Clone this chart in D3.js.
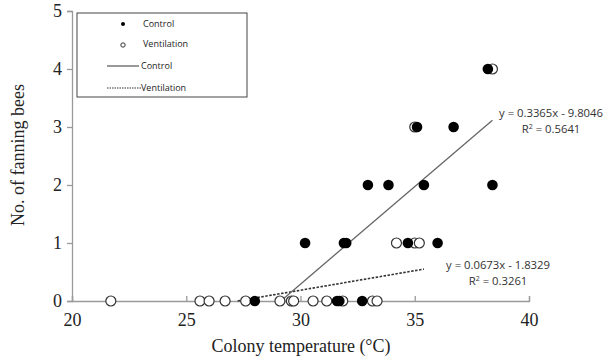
<!DOCTYPE html>
<html>
<head>
<meta charset="utf-8">
<script src="https://cdn.jsdelivr.net/npm/d3@7"></script>
<style>
  body { margin: 0; background: #fff; }
  svg { display: block; }
</style>
</head>
<body>
<svg id="chart" width="605" height="358"></svg>
<script>
// control colonies (filled dots)
var controlTemp = [28.0, 31.6, 31.7, 32.7, 30.2, 31.9, 32.0, 34.7, 36.0, 32.95, 33.85, 35.4, 38.4, 35.1, 36.7, 38.2];
var controlFan  = [0,    0,    0,    0,    1,    1,    1,    1,    1,    2,     2,     2,    2,    3,    3,    4];
// ventilation colonies (open circles)
var ventTemp = [21.7, 25.6, 26.0, 26.7, 27.6, 29.1, 29.6, 29.7, 30.55, 31.15, 31.85, 33.15, 33.35, 34.2, 35.0, 35.2, 35.0, 38.4];
var ventFan  = [0,    0,    0,    0,    0,    0,    0,    0,    0,     0,     0,     0,     0,     1,    1,    1,    3,    4];
// trendlines
var controlFit = {a: 0.3365, b: -9.8046, from: 29.14, to: 38.4};
var ventFit = {a: 0.0673, b: -1.8329, from: 27.25, to: 35.4};
var xTicks = [20, 25, 30, 35, 40];
var yTicks = [0, 1, 2, 3, 4, 5];

var svg = d3.select("#chart");
var x = d3.scaleLinear().domain([20, 40]).range([72, 529]);
var y = d3.scaleLinear().domain([0, 5]).range([301, 11]);
var axisColor = "#9a9a9a";

// y axis, ticks outside
var gy = svg.append("g").attr("transform", "translate(72,0)")
    .call(d3.axisLeft(y).tickValues(yTicks).tickSize(5).tickPadding(5).tickFormat(d3.format("d")));
// x axis, ticks pointing up
var gx = svg.append("g").attr("transform", "translate(0,301)")
    .call(d3.axisBottom(x).tickValues(xTicks).tickSizeInner(-5).tickSizeOuter(-5).tickPadding(8).tickFormat(d3.format("d")));

[gx, gy].forEach(function(g){
    g.select(".domain").attr("stroke", axisColor).attr("stroke-width", 1.3);
    g.selectAll(".tick line").attr("stroke", axisColor).attr("stroke-width", 1.3);
    g.selectAll(".tick text").attr("fill", "#222")
        .style("font-family", "'Liberation Serif', 'Times New Roman', serif").style("font-size", "18px");
});
gx.selectAll(".tick text").attr("dy", "0.95em");

// axis titles
svg.append("text").attr("x", 301).attr("y", 352).attr("text-anchor", "middle")
    .style("font-family", "'Liberation Serif', serif").style("font-size", "18px").attr("fill", "#222")
    .text("Colony temperature (°C)");
svg.append("text").attr("transform", "translate(24,155) rotate(-90)").attr("text-anchor", "middle")
    .style("font-family", "'Liberation Serif', serif").style("font-size", "18px").attr("fill", "#222")
    .text("No. of fanning bees");

// trendlines
function fitLine(f, dash){
    svg.append("line")
        .attr("x1", x(f.from)).attr("y1", y(f.a * f.from + f.b))
        .attr("x2", x(f.to)).attr("y2", y(f.a * f.to + f.b))
        .attr("stroke", dash ? "#333" : "#666").attr("stroke-width", dash ? 1.6 : 1.3)
        .attr("stroke-dasharray", dash ? "2.5,1.5" : null);
}
fitLine(ventFit, true);
fitLine(controlFit, false);

// points
var ventPts = ventTemp.map(function(t, i){ return [t, ventFan[i]]; });
var ctrlPts = controlTemp.map(function(t, i){ return [t, controlFan[i]]; });

svg.append("g").selectAll("circle").data(ventPts).enter().append("circle")
    .attr("cx", d => x(d[0])).attr("cy", d => y(d[1])).attr("r", 5)
    .attr("fill", "#fff").attr("stroke", "#333").attr("stroke-width", 1.2);
svg.append("g").selectAll("circle").data(ctrlPts).enter().append("circle")
    .attr("cx", d => x(d[0])).attr("cy", d => y(d[1])).attr("r", 5.3)
    .attr("fill", "#000");

// equation labels
var eqFont = "'Open Sans', 'Liberation Sans', sans-serif";
function eq(cx, cy, l1, l2){
    var t = svg.append("text").attr("text-anchor", "middle")
        .style("font-family", eqFont).style("font-size", "11.3px").attr("fill", "#333");
    t.append("tspan").attr("x", cx).attr("y", cy).text(l1);
    var t2 = t.append("tspan").attr("x", cx).attr("y", cy + 16).text("R");
    t2.append("tspan").attr("dy", -4).style("font-size", "7px").text("2");
    t.append("tspan").attr("dy", 4).text(" " + l2);
}
eq(551, 117, "y = 0.3365x - 9.8046", "= 0.5641");
eq(498, 269, "y = 0.0673x - 1.8329", "= 0.3261");

// legend
var lg = svg.append("g");
lg.append("rect").attr("x", 77).attr("y", 13).attr("width", 170).attr("height", 84)
    .attr("fill", "#fff").attr("stroke", "#444").attr("stroke-width", 1);
var legFont = "'Open Sans', 'Liberation Sans', sans-serif";
lg.append("circle").attr("cx", 123).attr("cy", 24).attr("r", 2).attr("fill", "#000");
lg.append("circle").attr("cx", 123).attr("cy", 45).attr("r", 2.2).attr("fill", "#fff").attr("stroke", "#333").attr("stroke-width", 1);
lg.append("line").attr("x1", 107).attr("x2", 139).attr("y1", 66).attr("y2", 66).attr("stroke", "#333").attr("stroke-width", 1);
lg.append("line").attr("x1", 107).attr("x2", 141).attr("y1", 88).attr("y2", 88).attr("stroke", "#333").attr("stroke-width", 1).attr("stroke-dasharray", "1.5,1");
[["Control", 143, 24], ["Ventilation", 143, 44], ["Control", 141, 66], ["Ventilation", 141, 88]].forEach(function(e){
    lg.append("text").attr("x", e[1]).attr("y", e[2]).attr("dy", "0.35em")
        .style("font-family", legFont).style("font-size", "9px").attr("fill", "#222").text(e[0]);
});
</script>
</body>
</html>
